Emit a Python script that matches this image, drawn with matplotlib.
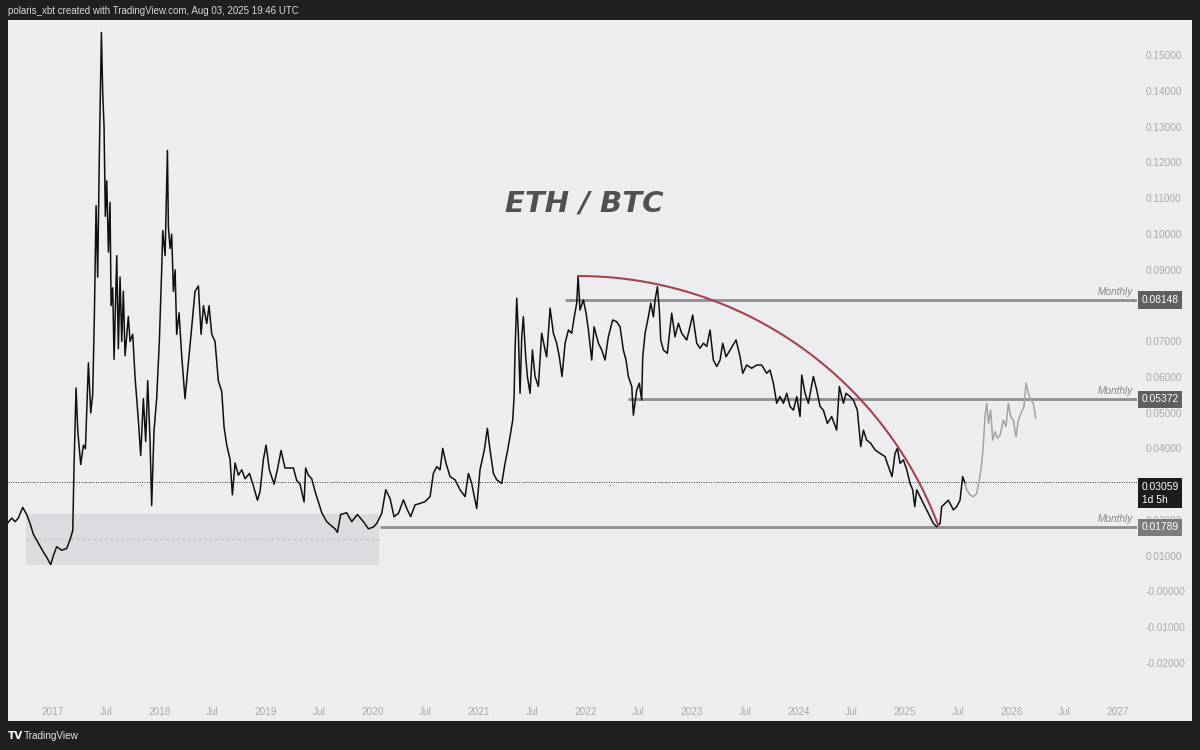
import numpy as np
import matplotlib
matplotlib.use("Agg")
from matplotlib import pyplot as plt
from matplotlib.patches import Rectangle

# ============================================================================
# ETH/BTC closes (decimal year, price)
# ============================================================================
hist_year = [2016.571, 2016.612, 2016.643, 2016.674, 2016.715, 2016.753, 2016.784, 2016.815,
             2016.862, 2016.909, 2016.941, 2016.978, 2017.003, 2017.034, 2017.081, 2017.128,
             2017.160, 2017.185, 2017.197, 2017.216, 2017.232, 2017.260, 2017.285, 2017.304,
             2017.332, 2017.354, 2017.372, 2017.388, 2017.404, 2017.419, 2017.435, 2017.454,
             2017.466, 2017.479, 2017.491, 2017.504, 2017.520, 2017.535, 2017.545, 2017.560,
             2017.573, 2017.598, 2017.613, 2017.629, 2017.645, 2017.660, 2017.676, 2017.707,
             2017.723, 2017.748, 2017.770, 2017.801, 2017.823, 2017.848, 2017.870, 2017.889,
             2017.911, 2017.926, 2017.948, 2017.973, 2017.998, 2018.020, 2018.030, 2018.052,
             2018.074, 2018.083, 2018.099, 2018.114, 2018.130, 2018.146, 2018.161, 2018.183,
             2018.208, 2018.239, 2018.271, 2018.302, 2018.333, 2018.365, 2018.390, 2018.412,
             2018.443, 2018.465, 2018.490, 2018.521, 2018.552, 2018.584, 2018.606, 2018.631,
             2018.662, 2018.684, 2018.709, 2018.740, 2018.772, 2018.803, 2018.844, 2018.881,
             2018.919, 2018.944, 2018.975, 2019.000, 2019.031, 2019.075, 2019.106, 2019.141,
             2019.178, 2019.219, 2019.257, 2019.288, 2019.319, 2019.357, 2019.372, 2019.397,
             2019.429, 2019.460, 2019.491, 2019.523, 2019.570, 2019.607, 2019.648, 2019.670,
             2019.701, 2019.757, 2019.804, 2019.858, 2019.914, 2019.961, 2020.008,
             2020.039, 2020.086, 2020.124, 2020.164, 2020.202, 2020.243, 2020.290, 2020.327,
             2020.358, 2020.399, 2020.446, 2020.493, 2020.540, 2020.571, 2020.603, 2020.634,
             2020.659, 2020.690, 2020.728, 2020.775, 2020.822, 2020.869, 2020.900, 2020.931,
             2020.978, 2021.009, 2021.050, 2021.078, 2021.103, 2021.135, 2021.166, 2021.213,
             2021.244, 2021.269, 2021.291, 2021.316, 2021.329, 2021.338, 2021.354, 2021.369,
             2021.385, 2021.401, 2021.416, 2021.438, 2021.454, 2021.479, 2021.501, 2021.526,
             2021.557, 2021.588, 2021.620, 2021.635, 2021.667, 2021.698, 2021.729, 2021.754,
             2021.779, 2021.808, 2021.839, 2021.870, 2021.892, 2021.917, 2021.930, 2021.948,
             2021.980, 2022.005, 2022.027, 2022.058, 2022.080, 2022.121, 2022.152, 2022.183,
             2022.214, 2022.255, 2022.293, 2022.324, 2022.355, 2022.380, 2022.402, 2022.434,
             2022.449, 2022.480, 2022.505, 2022.527, 2022.537, 2022.559, 2022.590, 2022.612,
             2022.637, 2022.653, 2022.675, 2022.693, 2022.706, 2022.731, 2022.768, 2022.809,
             2022.840, 2022.872, 2022.903, 2022.950, 2022.981, 2023.006, 2023.044, 2023.075,
             2023.106, 2023.138, 2023.169, 2023.200, 2023.232, 2023.263, 2023.288, 2023.319,
             2023.357, 2023.413, 2023.451, 2023.476, 2023.513, 2023.560, 2023.607, 2023.654,
             2023.701, 2023.732, 2023.764, 2023.795, 2023.826, 2023.858, 2023.889, 2023.920,
             2023.952, 2023.983, 2024.014, 2024.030, 2024.061, 2024.092, 2024.139, 2024.171,
             2024.202, 2024.233, 2024.271, 2024.311, 2024.358, 2024.383, 2024.421, 2024.446,
             2024.484, 2024.515, 2024.552, 2024.584, 2024.609, 2024.640, 2024.678, 2024.718,
             2024.765, 2024.812, 2024.844, 2024.878, 2024.906, 2024.928, 2024.953, 2024.984,
             2025.016, 2025.047, 2025.072, 2025.091, 2025.110, 2025.141, 2025.172, 2025.203,
             2025.235, 2025.266, 2025.297, 2025.329, 2025.344, 2025.376, 2025.407, 2025.454,
             2025.485, 2025.516, 2025.541, 2025.563]
hist_price = [0.0190, 0.0205, 0.0195, 0.0205, 0.0235, 0.0215, 0.0190, 0.0160,
              0.0135, 0.0110, 0.0095, 0.0075, 0.0100, 0.0125, 0.0115, 0.0120,
              0.0145, 0.0170, 0.0350, 0.0569, 0.0449, 0.0355, 0.0409, 0.0399,
              0.0639, 0.0499, 0.0549, 0.0769, 0.1079, 0.0879, 0.1228, 0.1563,
              0.1398, 0.1298, 0.1049, 0.1148, 0.0949, 0.1088, 0.0799, 0.0849,
              0.0649, 0.0939, 0.0679, 0.0879, 0.0699, 0.0839, 0.0659, 0.0769,
              0.0699, 0.0719, 0.0599, 0.0479, 0.0380, 0.0539, 0.0419, 0.0589,
              0.0419, 0.0240, 0.0449, 0.0539, 0.0699, 0.0899, 0.1009, 0.0939,
              0.1233, 0.1019, 0.0959, 0.0999, 0.0839, 0.0899, 0.0719, 0.0779,
              0.0659, 0.0539, 0.0639, 0.0739, 0.0839, 0.0854, 0.0719, 0.0799,
              0.0749, 0.0799, 0.0719, 0.0699, 0.0589, 0.0559, 0.0459, 0.0409,
              0.0369, 0.0270, 0.0359, 0.0325, 0.0340, 0.0315, 0.0330, 0.0295,
              0.0255, 0.0280, 0.0369, 0.0409, 0.0340, 0.0300, 0.0340, 0.0394,
              0.0345, 0.0345, 0.0345, 0.0310, 0.0300, 0.0250, 0.0345, 0.0325,
              0.0315, 0.0280, 0.0250, 0.0220, 0.0195, 0.0185, 0.0175, 0.0165,
              0.0215, 0.0220, 0.0195, 0.0215, 0.0195, 0.0175, 0.0180,
              0.0190, 0.0218, 0.0284, 0.0260, 0.0209, 0.0218, 0.0256, 0.0228,
              0.0209, 0.0242, 0.0246, 0.0251, 0.0265, 0.0330, 0.0349, 0.0340,
              0.0400, 0.0358, 0.0321, 0.0312, 0.0284, 0.0265, 0.0330, 0.0302,
              0.0232, 0.0340, 0.0396, 0.0456, 0.0396, 0.0330, 0.0312, 0.0302,
              0.0358, 0.0396, 0.0433, 0.0479, 0.0545, 0.0675, 0.0820, 0.0722,
              0.0554, 0.0712, 0.0768, 0.0656, 0.0601, 0.0554, 0.0675, 0.0601,
              0.0573, 0.0722, 0.0675, 0.0656, 0.0792, 0.0722, 0.0694, 0.0656,
              0.0601, 0.0694, 0.0731, 0.0722, 0.0764, 0.0806, 0.0880, 0.0787,
              0.0815, 0.0778, 0.0731, 0.0647, 0.0740, 0.0694, 0.0675, 0.0647,
              0.0712, 0.0759, 0.0754, 0.0740, 0.0675, 0.0647, 0.0601, 0.0573,
              0.0493, 0.0563, 0.0582, 0.0535, 0.0656, 0.0722, 0.0768, 0.0806,
              0.0768, 0.0815, 0.0852, 0.0787, 0.0703, 0.0675, 0.0666, 0.0778,
              0.0712, 0.0750, 0.0722, 0.0703, 0.0740, 0.0773, 0.0694, 0.0680,
              0.0694, 0.0685, 0.0731, 0.0647, 0.0629, 0.0647, 0.0694, 0.0656,
              0.0675, 0.0703, 0.0656, 0.0610, 0.0633, 0.0624, 0.0633, 0.0633,
              0.0610, 0.0619, 0.0582, 0.0526, 0.0545, 0.0526, 0.0554, 0.0517,
              0.0507, 0.0545, 0.0489, 0.0605, 0.0554, 0.0526, 0.0601, 0.0563,
              0.0517, 0.0507, 0.0470, 0.0489, 0.0451, 0.0573, 0.0526, 0.0554,
              0.0545, 0.0535, 0.0507, 0.0405, 0.0451, 0.0423, 0.0414, 0.0396,
              0.0386, 0.0377, 0.0349, 0.0321, 0.0386, 0.0400, 0.0358, 0.0368,
              0.0340, 0.0302, 0.0284, 0.0237, 0.0284, 0.0265, 0.0246, 0.0228,
              0.0209, 0.0190, 0.0181, 0.0190, 0.0237, 0.0246, 0.0255, 0.0228,
              0.0237, 0.0255, 0.0321, 0.0302]

# grey projected path drawn after the snapshot date
proj_year = [2025.563, 2025.579, 2025.610, 2025.642, 2025.673, 2025.698, 2025.720, 2025.736,
             2025.751, 2025.767, 2025.783, 2025.804, 2025.823, 2025.845, 2025.867, 2025.892,
             2025.923, 2025.948, 2025.970, 2025.992, 2026.017, 2026.042, 2026.064, 2026.089,
             2026.117, 2026.136, 2026.158, 2026.180, 2026.205, 2026.227]
proj_price = [0.0302, 0.0284, 0.0270, 0.0265, 0.0274, 0.0311, 0.0358, 0.0414,
              0.0489, 0.0526, 0.0470, 0.0507, 0.0423, 0.0447, 0.0428, 0.0437,
              0.0479, 0.0461, 0.0526, 0.0489, 0.0479, 0.0433, 0.0479, 0.0498,
              0.0517, 0.0582, 0.0554, 0.0535, 0.0526, 0.0484]

# drawings
monthly_levels = [0.08148, 0.05372, 0.01789]
monthly_start = [2021.808, 2022.399, 2020.070]
monthly_tag_color = ["#5e5e63", "#5e5e63", "#7a7a7f"]
last_price = 0.03059
countdown = "1d 5h"
arc_start = (2021.930, 0.0882)
arc_end = (2025.310, 0.0186)
zone_years = (2016.746, 2020.061)
zone_prices = (0.0074, 0.0216)
zone_mid = 0.01465

year_ticks = list(range(2017, 2028))
price_ticks = [0.15, 0.14, 0.13, 0.12, 0.11, 0.10, 0.09, 0.08, 0.07, 0.06,
               0.05, 0.04, 0.03, 0.02, 0.01, 0.0, -0.01, -0.02]

header = "polaris_xbt created with TradingView.com, Aug 03, 2025 19:46 UTC"

# colours / fonts
DARK = "#1f1f1f"
PANEL = "#ededf0"
AXIS_TXT = "#a9a9af"
LINE_GREY = "#8d8d92"
NARROW = ["Liberation Sans", "DejaVu Sans"]

W, H = 1200, 750
fig = plt.figure(figsize=(12, 7.5), dpi=100, facecolor=DARK)
# light panel behind the chart and its price / time scales
fig.patches.append(Rectangle((8 / W, 29 / H), 1184 / W, 701 / H, transform=fig.transFigure,
                             fc=PANEL, ec="none", zorder=-10))
ax_l, ax_b, ax_w, ax_h = 8 / W, 53 / H, 1129 / W, 677 / H
ax = fig.add_axes([ax_l, ax_b, ax_w, ax_h], facecolor=PANEL)

xmin, xmax = 2016.577, 2027.178
ymin, ymax = -0.02953, 0.15979
ax.set_xlim(xmin, xmax)
ax.set_ylim(ymin, ymax)
for s in ax.spines.values():
    s.set_visible(False)

# axes ticks: years + Jul, prices on the right
xt, xl = [], []
for y in year_ticks:
    xt.append(y); xl.append(str(y))
    if y < year_ticks[-1]:
        xt.append(y + 0.496); xl.append("Jul")
ax.set_xticks(xt)
ax.set_xticklabels(xl, family=NARROW)
ax.yaxis.tick_right()
ax.set_yticks(price_ticks)
ax.set_yticklabels([("-" if v <= 0 else "") + f"{abs(v):.5f}" for v in price_ticks],
                   family=NARROW)
ax.tick_params(axis="both", length=0, colors=AXIS_TXT, labelsize=7.2)
ax.tick_params(axis="y", pad=6)
ax.tick_params(axis="x", pad=7)

# shaded accumulation zone
ax.add_patch(Rectangle((zone_years[0], zone_prices[0]), zone_years[1] - zone_years[0],
                       zone_prices[1] - zone_prices[0], fc="#dcdce0", ec="none", zorder=1))
ax.plot(zone_years, [zone_mid, zone_mid], color="#c4c4c9", lw=0.8, ls=(0, (3, 2)), zorder=1.2)

# price
ax.plot(hist_year, hist_price, color="#101010", lw=1.1, zorder=3)
ax.plot(proj_year, proj_price, color="#a2a2a7", lw=1.1, zorder=3)

# last price dotted line
ax.axhline(last_price, color="#333333", lw=0.7, ls=(0, (1, 1.5)), zorder=2)

# monthly levels
for lvl, x0, tc in zip(monthly_levels, monthly_start, monthly_tag_color):
    ax.plot([x0, xmax], [lvl, lvl], color=LINE_GREY, lw=2.0, zorder=2.5, solid_capstyle="butt")
    ax.annotate("Monthly", xy=(0.9965, lvl), xycoords=ax.get_yaxis_transform(),
                xytext=(0, 2.5), textcoords="offset points", ha="right", va="bottom",
                fontsize=7.2, style="italic", color="#85858a", family=NARROW, zorder=4)
    ax.text(1.004, lvl, f"{lvl:.5f}", transform=ax.get_yaxis_transform(), ha="left", va="center",
            color="white", fontsize=7.4, family=NARROW, clip_on=False, zorder=10,
            bbox=dict(boxstyle="square,pad=0.35", fc=tc, ec="none"))

ax.text(1.004, last_price, f"{last_price:.5f}\n{countdown}", transform=ax.get_yaxis_transform(),
        ha="left", va="top", color="white", fontsize=7.4, family=NARROW, linespacing=1.35,
        clip_on=False, zorder=10, bbox=dict(boxstyle="square,pad=0.35", fc="#1c1c20", ec="none"))

# red arc: circular in screen space, horizontal tangent at the top
sx = ax_w * W / (xmax - xmin)
sy = ax_h * H / (ymax - ymin)
dx = (arc_end[0] - arc_start[0]) * sx
dy = (arc_start[1] - arc_end[1]) * sy
R = (dx ** 2 + dy ** 2) / (2 * dy)
px = np.linspace(0, dx, 200)
py = R - np.sqrt(R ** 2 - px ** 2)
ax.plot(arc_start[0] + px / sx, arc_start[1] - py / sy, color="#a3434d", lw=1.5, zorder=4)

# title
ax.text(2021.986, 0.1086, "ETH / BTC", ha="center", va="center", fontsize=21,
        fontweight="bold", style="italic", color="#505055", zorder=5)

# header / footer
fig.text(8 / W, 1 - 11 / H, header, ha="left", va="center", color="#d8d8d8", fontsize=7.0,
         family=NARROW)
fig.text(8 / W, 1 - 736 / H, "TV", ha="left", va="center", color="white", fontsize=7.5,
         fontweight="bold")
fig.text(24 / W, 1 - 736 / H, "TradingView", ha="left", va="center", color="#e6e6e6",
         fontsize=7.2, family=NARROW)

fig.savefig("out.png", dpi=100, facecolor=fig.get_facecolor())
